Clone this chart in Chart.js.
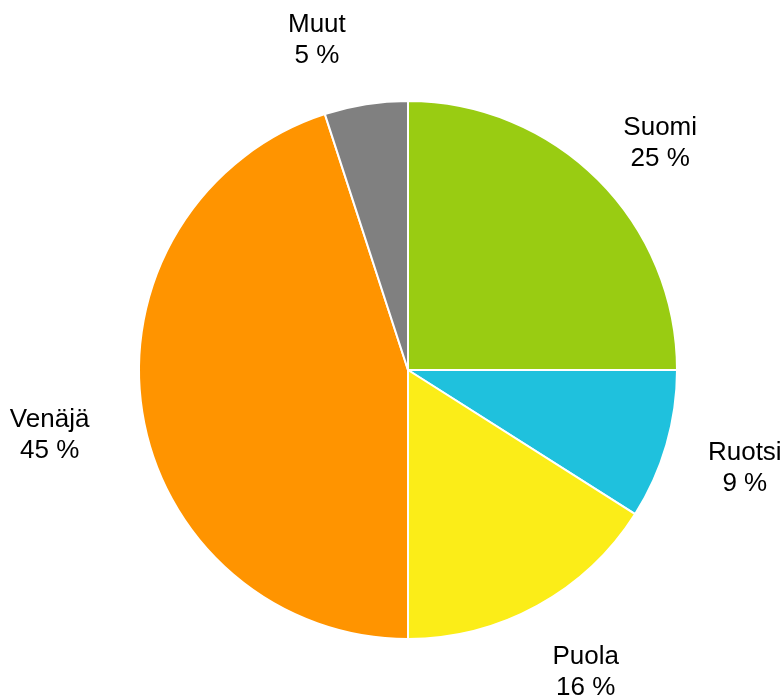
<!DOCTYPE html>
<html>
<head>
<meta charset="utf-8">
<style>
  html, body { margin: 0; padding: 0; background: #ffffff; }
  #wrap { width: 784px; height: 697px; }
</style>
<script src="https://cdn.jsdelivr.net/npm/chart.js@4/dist/chart.umd.min.js"></script>
</head>
<body>
<div id="wrap"><canvas id="pie" width="784" height="697"></canvas></div>
<script>
// Country shares, clockwise from 12 o'clock
const countries = ['Suomi', 'Ruotsi', 'Puola', 'Venäjä', 'Muut'];
const shares = [25, 9, 16, 45, 5];
const sliceColors = ['#99cc12', '#1fc1dd', '#fbed18', '#ff9400', '#808080'];

// Two-line outside labels (name above, percentage below), pushed out
// along each slice's middle ray so the text block clears the rim.
// `nudge` fine-tunes individual labels away from crowded spots.
const outsideLabels = {
  id: 'outsideLabels',
  afterDatasetsDraw(chart, args, opts) {
    const ctx = chart.ctx;
    const meta = chart.getDatasetMeta(0);
    const fontPx = 26;
    const lineGap = 31;
    const capMid = fontPx * 0.358;
    const halfBlock = 26;
    const gap = 48;
    const nudge = opts.nudge || [];
    ctx.save();
    ctx.font = fontPx + 'px "Liberation Sans", Arial, sans-serif';
    ctx.fillStyle = '#000000';
    ctx.textAlign = 'center';
    ctx.textBaseline = 'alphabetic';
    meta.data.forEach((arc, i) => {
      const p = arc.getProps(['x', 'y', 'startAngle', 'endAngle', 'outerRadius'], true);
      const mid = (p.startAngle + p.endAngle) / 2;
      const dx = Math.cos(mid), dy = Math.sin(mid);
      const line1 = countries[i];
      const line2 = shares[i] + ' %';
      const halfW = Math.max(ctx.measureText(line1).width, ctx.measureText(line2).width) / 2;
      const n = nudge[i] || [0, 0];
      const cx = p.x + dx * (p.outerRadius + gap) + dx * halfW + n[0];
      const cy = p.y + dy * (p.outerRadius + gap) + dy * halfBlock + n[1];
      ctx.fillText(line1, cx, cy - lineGap / 2 + capMid);
      ctx.fillText(line2, cx, cy + lineGap / 2 + capMid);
    });
    ctx.restore();
  }
};

new Chart(document.getElementById('pie'), {
  type: 'pie',
  data: {
    labels: countries,
    datasets: [{
      data: shares,
      backgroundColor: sliceColors,
      borderColor: '#ffffff',
      borderWidth: 2
    }]
  },
  options: {
    responsive: false,
    animation: false,
    layout: { padding: { top: 100, bottom: 57, left: 138, right: 106 } },
    plugins: {
      legend: { display: false },
      tooltip: { enabled: false },
      outsideLabels: {
        nudge: [[2, 14], [-3, 0], [9, 0], [-6, 10], [-37, 7]]
      }
    }
  },
  plugins: [outsideLabels]
});
</script>
</body>
</html>
